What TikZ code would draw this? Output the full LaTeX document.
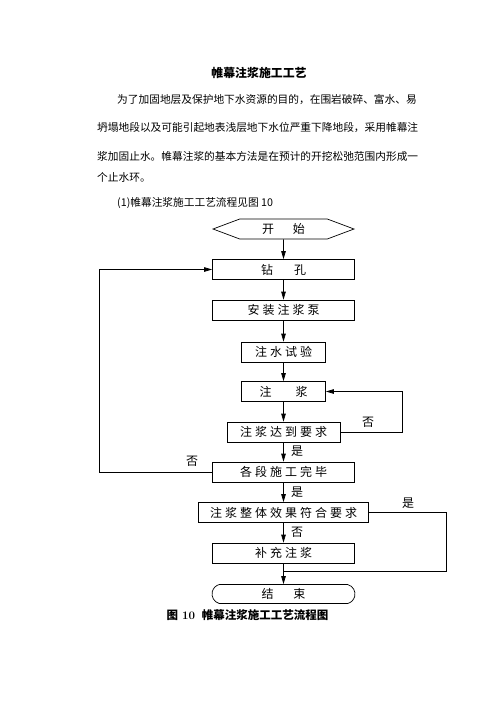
\documentclass[tikz,border=0pt]{standalone}
\usepackage{fontspec}
\newfontfamily\cjk{Noto Sans CJK SC}
\newfontfamily\cjkls{Noto Sans CJK SC}[LetterSpace=25]
\usetikzlibrary{arrows.meta,shapes.misc,shapes.symbols}

\begin{document}
\begin{tikzpicture}
[x=1pt, y=-1pt,
 procbox/.style={draw, line width=0.7pt, minimum height=20pt, inner sep=0pt, font=\cjkls\fontsize{12}{12}\selectfont},
 flow/.style={-{Triangle[length=8pt,width=4.5pt]}, line width=0.7pt},
 line/.style={line width=0.7pt},
 txt/.style={inner sep=0pt, anchor=west, font=\cjk\fontsize{10.7}{12}\selectfont},
 lab/.style={inner sep=0pt, font=\cjk\fontsize{12}{12}\selectfont},
]

\useasboundingbox (0,0) rectangle (496,702);

%title and text
\node[inner sep=0pt, font=\cjk\bfseries\fontsize{11.9}{12}\selectfont] (title) at (259,73) {帷幕注浆施工工艺};
\node[txt] (par1) at (117,100) {为了加固地层及保护地下水资源的目的，在围岩破碎、富水、易};
\node[txt] (par2) at (97,128) {坍塌地段以及可能引起地表浅层地下水位严重下降地段，采用帷幕注};
\node[txt] (par3) at (97,156) {浆加固止水。帷幕注浆的基本方法是在预计的开挖松弛范围内形成一};
\node[txt] (par4) at (97,177) {个止水环。};
\node[txt] (par5) at (117,203) {(1)帷幕注浆施工工艺流程见图 10};

%start
\node[draw, line width=0.7pt, signal, signal to=east and west, signal pointer angle=41,
      minimum width=141pt, minimum height=20pt, inner sep=0pt, font=\cjk\fontsize{12}{12}\selectfont]
      (start) at (283.5,229) {开\hspace{19pt}始};

%main column
\node[procbox, minimum width=142pt] (drill) at (283.5,269.5) {\cjk 钻\hspace{21pt}孔};
\node[procbox, minimum width=142pt] (pump)  at (283.5,310)   {安装注浆泵};
\node[procbox, minimum width=84pt]  (water) at (283.5,352)   {注水试验};
\node[procbox, minimum width=84pt]  (grout) at (283.5,391.5) {\cjk 注\hspace{24pt}浆};
\node[procbox, minimum width=113pt] (reach) at (283.5,432)   {注浆达到要求};
\node[procbox, minimum width=142pt] (done)  at (283.5,472)   {各段施工完毕};
\node[procbox, minimum width=170pt] (whole) at (283.5,512.5) {注浆整体效果符合要求};
\node[procbox, minimum width=142pt] (supp)  at (283.5,553)   {补充注浆};

%end
\node[draw, line width=0.7pt, rounded rectangle, rounded rectangle arc length=150,
      minimum width=143pt, minimum height=19pt, inner sep=0pt, font=\cjk\fontsize{12}{12}\selectfont]
      (finish) at (283.5,594) {结\hspace{20pt}束};
\coordinate (join) at (283.5,571);

%arrows
\draw[flow] (start) -- (drill);
\draw[flow] (drill) -- (pump);
\draw[flow] (pump) -- (water);
\draw[flow] (water) -- (grout);
\draw[flow] (grout) -- (reach);
\draw[flow] (reach) -- (done);
\draw[flow] (done) -- (whole);
\draw[flow] (whole) -- (supp);
\draw[flow] (supp) -- (finish);

%loops
\draw[flow] (reach.east) -- ++(62,0) |- (grout.east);
\draw[flow] (done.west) -- ++(-113,0) |- (drill.west);
\draw[line] (whole.east) -- ++(77,0) |- (join);

%labels
\node[lab] (no1)  at (368,422) {否};
\node[lab] (yes1) at (297,451) {是};
\node[lab] (no2)  at (192,461) {否};
\node[lab] (yes2) at (297,492) {是};
\node[lab] (yes3) at (408,503) {是};
\node[lab] (no3)  at (297,532) {否};

%caption
\node[inner sep=0pt, font=\cjk\bfseries\fontsize{11.5}{12}\selectfont] (caption) at (247.5,615)
      {图\hspace{4pt}{\rmfamily\bfseries 10}\hspace{7pt}帷幕注浆施工工艺流程图};

\end{tikzpicture}
\end{document}
